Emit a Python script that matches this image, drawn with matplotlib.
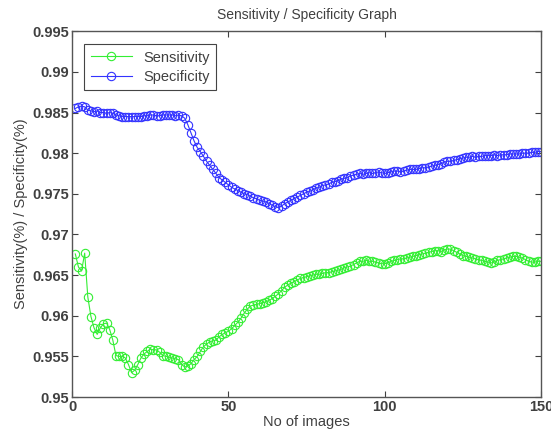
"""Sensitivity / specificity vs number of images (MATLAB-style figure)."""
import matplotlib
matplotlib.use("Agg")
import matplotlib.pyplot as plt

plt.rcParams.update({"font.family": ["Liberation Sans", "DejaVu Sans"],
                     "font.size": 10})

n_images = list(range(1, 151))

sensitivity = [
    0.9676, 0.9660, 0.9655, 0.9677, 0.9623, 0.9599, 0.9585, 0.9577, 0.9585, 0.9590,
    0.9591, 0.9583, 0.9570, 0.9551, 0.9550, 0.9550, 0.9548, 0.9540, 0.9530, 0.9533,
    0.9540, 0.9548, 0.9553, 0.9556, 0.9559, 0.9558, 0.9558, 0.9555, 0.9551, 0.9550,
    0.9549, 0.9548, 0.9547, 0.9546, 0.9540, 0.9537, 0.9538, 0.9541, 0.9546, 0.9550,
    0.9556, 0.9562, 0.9565, 0.9568, 0.9569, 0.9570, 0.9574, 0.9577, 0.9579, 0.9581,
    0.9584, 0.9588, 0.9592, 0.9597, 0.9603, 0.9608, 0.9612, 0.9613, 0.9614, 0.9615,
    0.9616, 0.9617, 0.9619, 0.9621, 0.9624, 0.9627, 0.9631, 0.9635, 0.9638, 0.9640,
    0.9642, 0.9644, 0.9646, 0.9647, 0.9648, 0.9649, 0.9650, 0.9651, 0.9651, 0.9652,
    0.9653, 0.9653, 0.9654, 0.9655, 0.9656, 0.9657, 0.9659, 0.9660, 0.9661, 0.9663,
    0.9665, 0.9667, 0.9667, 0.9668, 0.9667, 0.9667, 0.9666, 0.9665, 0.9664, 0.9664,
    0.9665, 0.9667, 0.9668, 0.9669, 0.9670, 0.9670, 0.9671, 0.9672, 0.9673, 0.9674,
    0.9675, 0.9676, 0.9677, 0.9678, 0.9679, 0.9680, 0.9680, 0.9679, 0.9681, 0.9682,
    0.9682, 0.9680, 0.9678, 0.9676, 0.9674, 0.9673, 0.9672, 0.9671, 0.9670, 0.9669,
    0.9668, 0.9667, 0.9666, 0.9665, 0.9666, 0.9668, 0.9669, 0.9670, 0.9671, 0.9672,
    0.9673, 0.9673, 0.9672, 0.9671, 0.9669, 0.9667, 0.9666, 0.9666, 0.9667, 0.9667,
]

specificity = [
    0.9855, 0.9857, 0.9858, 0.9857, 0.9853, 0.9852, 0.9851, 0.9852, 0.9850, 0.9850,
    0.9849, 0.9850, 0.9849, 0.9847, 0.9846, 0.9845, 0.9845, 0.9845, 0.9845, 0.9845,
    0.9845, 0.9845, 0.9846, 0.9846, 0.9847, 0.9847, 0.9846, 0.9846, 0.9847, 0.9847,
    0.9847, 0.9847, 0.9846, 0.9847, 0.9846, 0.9843, 0.9835, 0.9825, 0.9815, 0.9807,
    0.9802, 0.9796, 0.9790, 0.9785, 0.9780, 0.9775, 0.9770, 0.9767, 0.9764, 0.9761,
    0.9758, 0.9756, 0.9754, 0.9752, 0.9750, 0.9749, 0.9747, 0.9745, 0.9744, 0.9742,
    0.9741, 0.9740, 0.9738, 0.9736, 0.9734, 0.9733, 0.9735, 0.9738, 0.9740, 0.9742,
    0.9744, 0.9746, 0.9748, 0.9750, 0.9752, 0.9753, 0.9755, 0.9757, 0.9758, 0.9760,
    0.9761, 0.9762, 0.9764, 0.9765, 0.9766, 0.9768, 0.9769, 0.9770, 0.9772, 0.9773,
    0.9774, 0.9775, 0.9774, 0.9775, 0.9776, 0.9775, 0.9776, 0.9777, 0.9776, 0.9775,
    0.9776, 0.9777, 0.9778, 0.9778, 0.9777, 0.9778, 0.9779, 0.9780, 0.9780, 0.9780,
    0.9781, 0.9782, 0.9782, 0.9783, 0.9784, 0.9785, 0.9786, 0.9787, 0.9789, 0.9790,
    0.9790, 0.9791, 0.9792, 0.9793, 0.9794, 0.9795, 0.9795, 0.9796, 0.9795, 0.9796,
    0.9796, 0.9797, 0.9797, 0.9797, 0.9798, 0.9797, 0.9798, 0.9798, 0.9798, 0.9799,
    0.9799, 0.9799, 0.9799, 0.9800, 0.9800, 0.9800, 0.9801, 0.9801, 0.9802, 0.9802,
]

TXT = "#404040"

fig = plt.figure(figsize=(5.51, 4.37), dpi=100)
ax = fig.add_axes([0.131, 0.0915, 0.851, 0.837])

ax.plot(n_images, sensitivity, "-o", color="#33ee33", lw=0.8, ms=6,
        mfc="none", mew=0.8, label="Sensitivity")
ax.plot(n_images, specificity, "-o", color="#3333ff", lw=0.8, ms=6,
        mfc="none", mew=0.8, label="Specificity")

ax.set_xlim(0, 150); ax.set_ylim(0.95, 0.995)
ax.set_xticks([0, 50, 100, 150])
ax.set_yticks([0.95, 0.955, 0.96, 0.965, 0.97, 0.975, 0.98, 0.985, 0.99, 0.995])
ax.set_yticklabels(["0.95", "0.955", "0.96", "0.965", "0.97", "0.975",
                    "0.98", "0.985", "0.99", "0.995"])
ax.tick_params(direction="in", top=True, right=True, length=4, width=0.8,
               colors=TXT, labelsize=10.5, pad=2)
for lab in ax.get_xticklabels() + ax.get_yticklabels():
    lab.set_fontweight("bold")
for sp in ax.spines.values():
    sp.set_color("#555555"); sp.set_linewidth(1.0)

ax.set_title("Sensitivity / Specificity Graph", color=TXT, fontsize=10, pad=9)
ax.set_xlabel("No of images", color=TXT, fontsize=10.5, labelpad=1)
ax.set_ylabel("Sensitivity(%) / Specificity(%)", color=TXT, fontsize=10.5, labelpad=3)

leg = ax.legend(loc="upper left", fancybox=False, framealpha=1, borderpad=0.45,
                handlelength=2.8, labelspacing=0.35, fontsize=10.5,
                bbox_to_anchor=(0.01, 0.985))
leg.get_frame().set_edgecolor("#444444"); leg.get_frame().set_linewidth(0.8)
for t in leg.get_texts():
    t.set_color(TXT)

fig.savefig("out.png", dpi=100)
